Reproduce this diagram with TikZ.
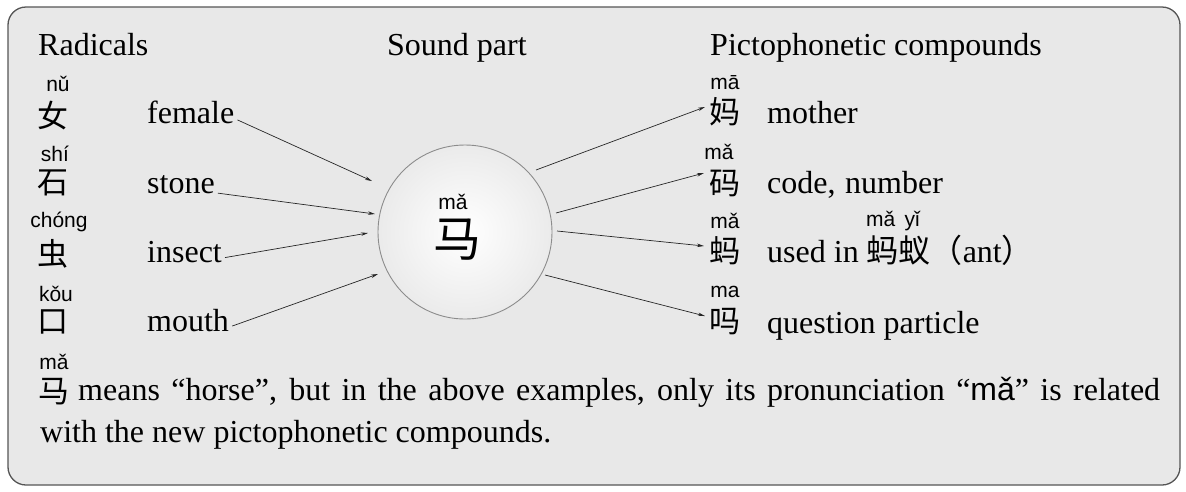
\documentclass[tikz,border=0pt]{standalone}
\usepackage{fontspec}
\setmainfont{Liberation Serif}
\newfontfamily\pyfont{Liberation Sans}
\newfontfamily\cjk{Noto Sans CJK SC}
\usetikzlibrary{arrows.meta}
\definecolor{panel}{HTML}{E8E8E8}
\definecolor{frameline}{HTML}{555555}
\begin{document}
\begin{tikzpicture}[x=1pt,y=-1pt,
  en/.style={font=\fontsize{32}{38}\selectfont, anchor=base west, inner sep=0pt},
  py/.style={font=\pyfont\fontsize{21}{24}\selectfont, inner sep=0pt},
  hz/.style={font=\cjk\fontsize{31}{34}\selectfont, inner sep=0pt},
  arr/.style={-{Stealth[length=7pt,width=3.5pt]}, line width=0.7pt, black!85},
]
\fill[white] (0,0) rectangle (1186,491);
\useasboundingbox (0,0) rectangle (1186,491);
\draw[rounded corners=18pt, fill=panel, draw=frameline, line width=1.3pt] (8,7) rectangle (1180,485);

% headers
\node[en] (hRad) at (38,55) {Radicals};
\node[en] (hSnd) at (387,55) {Sound part};
\node[en] (hPic) at (710,55) {Pictophonetic compounds};

% left column
\node[py] (pL1) at (58,84) {nǔ};
\node[hz] (kL1) at (53,116) {女};
\node[en] (eL1) at (147,123) {female};
\node[py] (pL2) at (55,154) {shí};
\node[hz] (kL2) at (53,183) {石};
\node[en] (eL2) at (147,193) {stone};
\node[py] (pL3) at (59,222) {chóng};
\node[hz] (kL3) at (53,254) {虫};
\node[en] (eL3) at (147,262) {insect};
\node[py] (pL4) at (56,294) {kǒu};
\node[hz] (kL4) at (53,322) {口};
\node[en] (eL4) at (147,331) {mouth};

% centre circle
\node[circle, minimum size=174pt, inner sep=0pt, draw=black!45, line width=0.9pt,
      inner color=white, outer color=white!92!black] (circ) at (465,232) {};
\node[py] (pC) at (453,202) {mǎ};
\node[font=\cjk\fontsize{48}{52}\selectfont, inner sep=0pt] (kC) at (457,240) {马};

% right column
\node[py] (pR1) at (725,83) {mā};
\node[hz] (kR1) at (725,112) {妈};
\node[en] (eR1) at (767,123) {mother};
\node[py] (pR2) at (719,152) {mǎ};
\node[hz] (kR2) at (725,183) {码};
\node[en] (eR2) at (767,193) {code,\hspace{0.3em}number};
\node[py] (pR3) at (725,221) {mǎ};
\node[hz] (kR3) at (725,251) {蚂};
\node[en] (eR3) at (767,262) {used in {\cjk 蚂蚁（}ant{\cjk ）}};
\node[py] (pR3b) at (893,221) {mǎ\hspace{0.45em}yǐ};
\node[py] (pR4) at (725,292) {ma};
\node[hz] (kR4) at (725,322) {吗};
\node[en] (eR4) at (767,333) {question particle};

% arrow end coordinates
\coordinate (tL1) at (372,181);
\coordinate (tL2) at (375,214);
\coordinate (tL3) at (368,233);
\coordinate (tL4) at (378,274);
\coordinate (sR1) at (536,170);
\coordinate (sR2) at (556,213);
\coordinate (sR3) at (557,231);
\coordinate (sR4) at (545,275);
\coordinate (tR1) at (705,107);
\coordinate (tR2) at (704,173);
\coordinate (tR3) at (704,246);
\coordinate (tR4) at (705,316);

\draw[arr] ([xshift=3pt,yshift=-8pt]eL1.east) -- (tL1);
\draw[arr] ([xshift=3pt,yshift=-9pt]eL2.east) -- (tL2);
\draw[arr] ([xshift=3pt,yshift=-6pt]eL3.east) -- (tL3);
\draw[arr] ([xshift=3pt,yshift=-6pt]eL4.east) -- (tL4);
\draw[arr] (sR1) -- (tR1);
\draw[arr] (sR2) -- (tR2);
\draw[arr] (sR3) -- (tR3);
\draw[arr] (sR4) -- (tR4);

% bottom note
\node[py] (pB) at (54,362) {mǎ};
\node[hz] (kB) at (54,392) {马};
\node[en] (nB1) at (78,400) {\makebox[1082pt][s]{means “horse”, but in the above examples, only its pronunciation “{\pyfont mǎ}” is related}};
\node[en] (nB2) at (40,442) {with the new pictophonetic compounds.};
\end{tikzpicture}
\end{document}
